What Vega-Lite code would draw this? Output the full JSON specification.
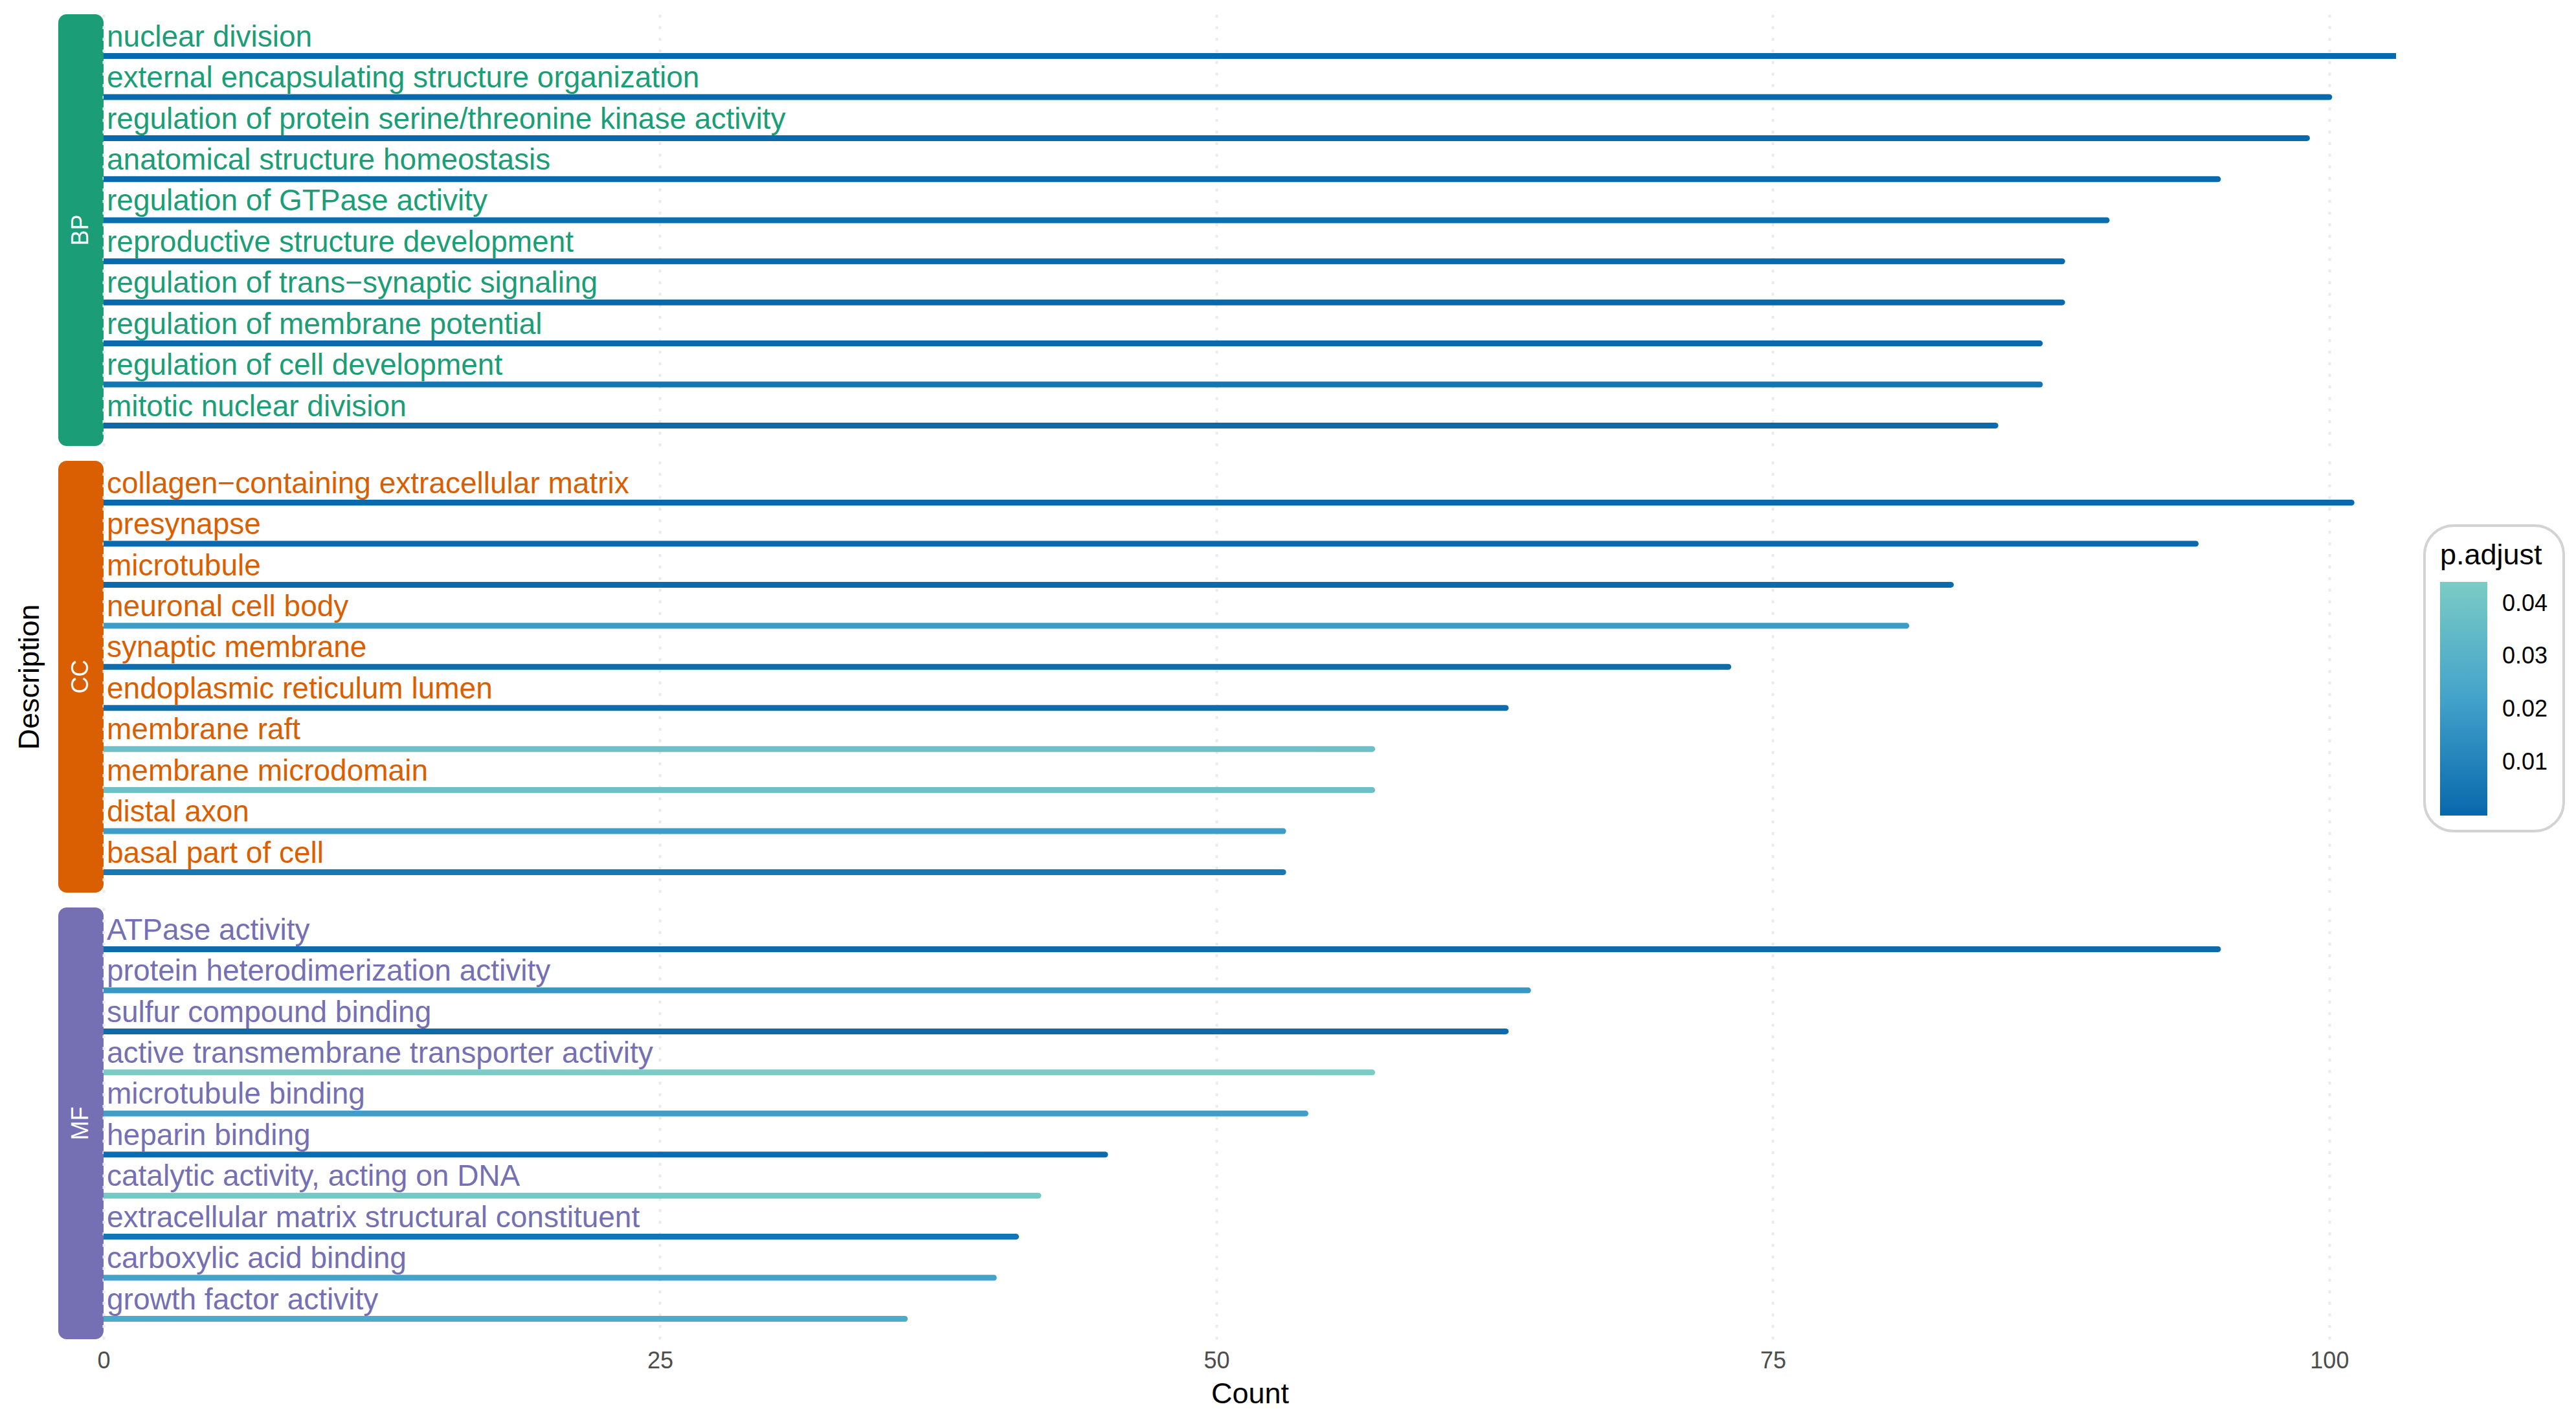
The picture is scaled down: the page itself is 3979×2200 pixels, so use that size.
{
  "$schema": "https://vega.github.io/schema/vega-lite/v6.json",
  "background": "white",
  "padding": {"left": 23, "top": 22, "right": 0, "bottom": 0},
  "spacing": 23,
  "config": {
    "view": {"stroke": null},
    "font": "Liberation Sans",
    "axis": {"gridColor": "#ebebeb", "gridWidth": 4, "gridDash": [4.5, 13.4], "domain": false, "ticks": false, "tickSize": 0, "labelFlush": false, "labelFont": "Liberation Sans", "titleFont": "Liberation Sans"}
  },
  "resolve": {"scale": {"x": "independent", "y": "independent"}},
  "datasets": {
    "go": [
      {"ONTOLOGY": "BP", "Description": "nuclear division", "Count": 103, "p_adjust": 0.0004},
      {"ONTOLOGY": "BP", "Description": "external encapsulating structure organization", "Count": 100, "p_adjust": 0.0004},
      {"ONTOLOGY": "BP", "Description": "regulation of protein serine/threonine kinase activity", "Count": 99, "p_adjust": 0.0004},
      {"ONTOLOGY": "BP", "Description": "anatomical structure homeostasis", "Count": 95, "p_adjust": 0.0004},
      {"ONTOLOGY": "BP", "Description": "regulation of GTPase activity", "Count": 90, "p_adjust": 0.002},
      {"ONTOLOGY": "BP", "Description": "reproductive structure development", "Count": 88, "p_adjust": 0.0004},
      {"ONTOLOGY": "BP", "Description": "regulation of trans−synaptic signaling", "Count": 88, "p_adjust": 0.0005},
      {"ONTOLOGY": "BP", "Description": "regulation of membrane potential", "Count": 87, "p_adjust": 0.0008},
      {"ONTOLOGY": "BP", "Description": "regulation of cell development", "Count": 87, "p_adjust": 0.005},
      {"ONTOLOGY": "BP", "Description": "mitotic nuclear division", "Count": 85, "p_adjust": 0.0008},
      {"ONTOLOGY": "CC", "Description": "collagen−containing extracellular matrix", "Count": 101, "p_adjust": 0.0004},
      {"ONTOLOGY": "CC", "Description": "presynapse", "Count": 94, "p_adjust": 0.0008},
      {"ONTOLOGY": "CC", "Description": "microtubule", "Count": 83, "p_adjust": 0.0008},
      {"ONTOLOGY": "CC", "Description": "neuronal cell body", "Count": 81, "p_adjust": 0.02},
      {"ONTOLOGY": "CC", "Description": "synaptic membrane", "Count": 73, "p_adjust": 0.002},
      {"ONTOLOGY": "CC", "Description": "endoplasmic reticulum lumen", "Count": 63, "p_adjust": 0.002},
      {"ONTOLOGY": "CC", "Description": "membrane raft", "Count": 57, "p_adjust": 0.038},
      {"ONTOLOGY": "CC", "Description": "membrane microdomain", "Count": 57, "p_adjust": 0.038},
      {"ONTOLOGY": "CC", "Description": "distal axon", "Count": 53, "p_adjust": 0.02},
      {"ONTOLOGY": "CC", "Description": "basal part of cell", "Count": 53, "p_adjust": 0.006},
      {"ONTOLOGY": "MF", "Description": "ATPase activity", "Count": 95, "p_adjust": 0.001},
      {"ONTOLOGY": "MF", "Description": "protein heterodimerization activity", "Count": 64, "p_adjust": 0.018},
      {"ONTOLOGY": "MF", "Description": "sulfur compound binding", "Count": 63, "p_adjust": 0.001},
      {"ONTOLOGY": "MF", "Description": "active transmembrane transporter activity", "Count": 57, "p_adjust": 0.0441},
      {"ONTOLOGY": "MF", "Description": "microtubule binding", "Count": 54, "p_adjust": 0.021},
      {"ONTOLOGY": "MF", "Description": "heparin binding", "Count": 45, "p_adjust": 0.001},
      {"ONTOLOGY": "MF", "Description": "catalytic activity, acting on DNA", "Count": 42, "p_adjust": 0.042},
      {"ONTOLOGY": "MF", "Description": "extracellular matrix structural constituent", "Count": 41, "p_adjust": 0.005},
      {"ONTOLOGY": "MF", "Description": "carboxylic acid binding", "Count": 40, "p_adjust": 0.022},
      {"ONTOLOGY": "MF", "Description": "growth factor activity", "Count": 36, "p_adjust": 0.026}
    ],
    "onto": [{"ONTOLOGY": "BP"}, {"ONTOLOGY": "CC"}, {"ONTOLOGY": "MF"}]
  },
  "vconcat": [
    {
      "spacing": 0, "bounds": "flush",
      "resolve": {"scale": {"x": "independent", "y": "independent"}},
      "hconcat": [
        {
          "width": 70, "height": 667,
          "data": {"name": "onto"},
          "transform": [{"filter": "datum.ONTOLOGY === 'BP'"}],
          "encoding": {
            "x": {"field": "ONTOLOGY", "type": "nominal", "scale": {"type": "band", "paddingInner": 0, "paddingOuter": 0}, "axis": null},
            "y": {"field": "ONTOLOGY", "type": "nominal", "scale": {"type": "band", "paddingInner": 0, "paddingOuter": 0}, "axis": null}
          },
          "layer": [
            {"mark": {"type": "rect", "cornerRadius": 13}, "encoding": {"fill": {"field": "ONTOLOGY", "type": "nominal", "scale": {"domain": ["BP", "CC", "MF"], "range": ["#1b9e77", "#d95f02", "#7570b3"]}, "legend": null}}},
            {"mark": {"type": "text", "angle": 270, "fontSize": 36, "fill": "white", "align": "center", "baseline": "middle"}, "encoding": {"text": {"field": "ONTOLOGY"}}}
          ]
        },
        {
          "width": 3541, "height": 667,
          "data": {"name": "go"},
          "transform": [{"filter": "datum.ONTOLOGY === 'BP'"}],
          "encoding": {
            "y": {"field": "Description", "type": "nominal", "sort": null, "scale": {"type": "point", "padding": 0.7566}, "axis": null}
          },
          "layer": [
            {
              "mark": {"type": "rule", "strokeWidth": 9, "strokeCap": "round", "yOffset": 16.5, "clip": true},
              "encoding": {
                "x": {"field": "Count", "type": "quantitative", "scale": {"domain": [0, 103], "nice": false, "zero": true}, "axis": {"values": [0, 25, 50, 75, 100], "labels": false, "title": null, "grid": true}},
                "x2": {"datum": 0},
                "stroke": {"field": "p_adjust", "type": "quantitative", "scale": {"domain": [0, 0.0441], "range": ["#0868ac", "#43a2ca", "#7bccc4"], "interpolate": "rgb"},
                  "legend": {"title": "p.adjust", "orient": "none", "legendX": 3655, "legendY": 790, "direction": "vertical", "gradientLength": 361, "gradientThickness": 73, "titleFontSize": 45, "titleFontWeight": "normal", "titleColor": "black", "labelFontSize": 36, "labelColor": "black", "labelOffset": 23, "padding": 24, "strokeColor": "#d3d3d3", "cornerRadius": 45, "titlePadding": 18, "gradientStrokeWidth": 0, "values": [0.01, 0.02, 0.03, 0.04], "labelFont": "Liberation Sans", "titleFont": "Liberation Sans", "encode": {"legend": {"update": {"strokeWidth": {"value": 4}}}}}}
              }
            },
            {
              "mark": {"type": "text", "align": "left", "baseline": "alphabetic", "dx": 5, "yOffset": 1.7, "fontSize": 46, "font": "Liberation Sans"},
              "encoding": {
                "x": {"datum": 0},
                "text": {"field": "Description"},
                "fill": {"field": "ONTOLOGY", "type": "nominal", "legend": null}
              }
            }
          ]
        }
      ]
    },
    {
      "spacing": 0, "bounds": "flush",
      "resolve": {"scale": {"x": "independent", "y": "independent"}},
      "hconcat": [
        {
          "width": 70, "height": 667,
          "data": {"name": "onto"},
          "transform": [{"filter": "datum.ONTOLOGY === 'CC'"}],
          "encoding": {
            "x": {"field": "ONTOLOGY", "type": "nominal", "scale": {"type": "band", "paddingInner": 0, "paddingOuter": 0}, "axis": null},
            "y": {"field": "ONTOLOGY", "type": "nominal", "scale": {"type": "band", "paddingInner": 0, "paddingOuter": 0}, "axis": {"title": "Description", "labels": false, "ticks": false, "domain": false, "grid": false, "titleFontSize": 45, "titleFontWeight": "normal", "titleColor": "black", "titlePadding": 22}}
          },
          "layer": [
            {"mark": {"type": "rect", "cornerRadius": 13}, "encoding": {"fill": {"field": "ONTOLOGY", "type": "nominal", "legend": null}}},
            {"mark": {"type": "text", "angle": 270, "fontSize": 36, "fill": "white", "align": "center", "baseline": "middle"}, "encoding": {"text": {"field": "ONTOLOGY"}}}
          ]
        },
        {
          "width": 3541, "height": 667,
          "data": {"name": "go"},
          "transform": [{"filter": "datum.ONTOLOGY === 'CC'"}],
          "encoding": {
            "y": {"field": "Description", "type": "nominal", "sort": null, "scale": {"type": "point", "padding": 0.7566}, "axis": null}
          },
          "layer": [
            {
              "mark": {"type": "rule", "strokeWidth": 9, "strokeCap": "round", "yOffset": 16.5, "clip": true},
              "encoding": {
                "x": {"field": "Count", "type": "quantitative", "scale": {"domain": [0, 103], "nice": false, "zero": true}, "axis": {"values": [0, 25, 50, 75, 100], "labels": false, "title": null, "grid": true}},
                "x2": {"datum": 0},
                "stroke": {"field": "p_adjust", "type": "quantitative"}
              }
            },
            {
              "mark": {"type": "text", "align": "left", "baseline": "alphabetic", "dx": 5, "yOffset": 1.7, "fontSize": 46, "font": "Liberation Sans"},
              "encoding": {
                "x": {"datum": 0},
                "text": {"field": "Description"},
                "fill": {"field": "ONTOLOGY", "type": "nominal", "legend": null}
              }
            }
          ]
        }
      ]
    },
    {
      "spacing": 0, "bounds": "flush",
      "resolve": {"scale": {"x": "independent", "y": "independent"}},
      "hconcat": [
        {
          "width": 70, "height": 667,
          "data": {"name": "onto"},
          "transform": [{"filter": "datum.ONTOLOGY === 'MF'"}],
          "encoding": {
            "x": {"field": "ONTOLOGY", "type": "nominal", "scale": {"type": "band", "paddingInner": 0, "paddingOuter": 0}, "axis": null},
            "y": {"field": "ONTOLOGY", "type": "nominal", "scale": {"type": "band", "paddingInner": 0, "paddingOuter": 0}, "axis": null}
          },
          "layer": [
            {"mark": {"type": "rect", "cornerRadius": 13}, "encoding": {"fill": {"field": "ONTOLOGY", "type": "nominal", "legend": null}}},
            {"mark": {"type": "text", "angle": 270, "fontSize": 36, "fill": "white", "align": "center", "baseline": "middle"}, "encoding": {"text": {"field": "ONTOLOGY"}}}
          ]
        },
        {
          "width": 3541, "height": 667,
          "data": {"name": "go"},
          "transform": [{"filter": "datum.ONTOLOGY === 'MF'"}],
          "encoding": {
            "y": {"field": "Description", "type": "nominal", "sort": null, "scale": {"type": "point", "padding": 0.7566}, "axis": null}
          },
          "layer": [
            {
              "mark": {"type": "rule", "strokeWidth": 9, "strokeCap": "round", "yOffset": 16.5, "clip": true},
              "encoding": {
                "x": {"field": "Count", "type": "quantitative", "scale": {"domain": [0, 103], "nice": false, "zero": true}, "axis": {"values": [0, 25, 50, 75, 100], "labels": true, "labelFontSize": 36, "labelColor": "#4d4d4d", "labelPadding": 16, "title": "Count", "titleFontSize": 45, "titleFontWeight": "normal", "titleColor": "black", "titlePadding": 11, "grid": true}},
                "x2": {"datum": 0},
                "stroke": {"field": "p_adjust", "type": "quantitative"}
              }
            },
            {
              "mark": {"type": "text", "align": "left", "baseline": "alphabetic", "dx": 5, "yOffset": 1.7, "fontSize": 46, "font": "Liberation Sans"},
              "encoding": {
                "x": {"datum": 0},
                "text": {"field": "Description"},
                "fill": {"field": "ONTOLOGY", "type": "nominal", "legend": null}
              }
            }
          ]
        }
      ]
    }
  ]
}
